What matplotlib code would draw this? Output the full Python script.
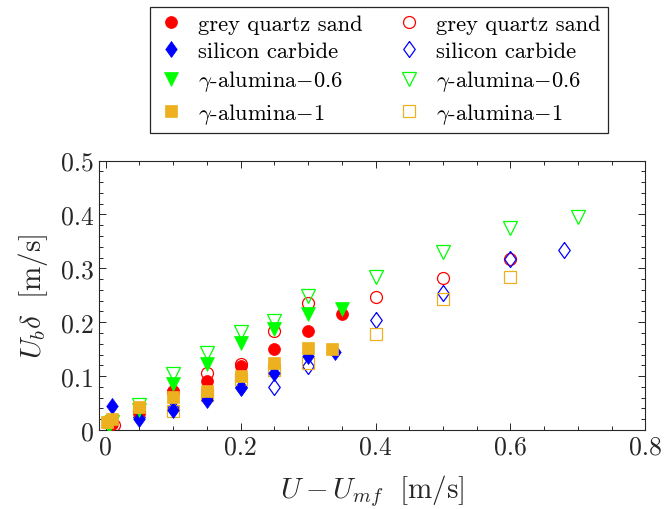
import matplotlib
matplotlib.use("Agg")
import matplotlib.pyplot as plt
from matplotlib.ticker import MultipleLocator

plt.rcParams['font.family'] = ['cmr10', 'DejaVu Serif']
plt.rcParams['mathtext.fontset'] = 'cm'
plt.rcParams['axes.formatter.use_mathtext'] = True
plt.rcParams['axes.unicode_minus'] = False

# ---- data: closed symbols ----
sand_x = [0.01, 0.05, 0.10, 0.15, 0.20, 0.25, 0.30, 0.35]
sand_y = [0.012, 0.032, 0.073, 0.090, 0.118, 0.151, 0.183, 0.215]
sic_x = [0.01, 0.05, 0.10, 0.15, 0.20, 0.25, 0.30, 0.34]
sic_y = [0.045, 0.021, 0.038, 0.055, 0.078, 0.106, 0.137, 0.145]
a06_x = [0.005, 0.05, 0.10, 0.15, 0.20, 0.25, 0.30, 0.35]
a06_y = [0.008, 0.037, 0.085, 0.123, 0.162, 0.187, 0.216, 0.225]
a1_x = [0.002, 0.01, 0.05, 0.10, 0.15, 0.20, 0.25, 0.30, 0.335]
a1_y = [0.015, 0.020, 0.043, 0.061, 0.072, 0.100, 0.125, 0.153, 0.151]

# ---- data: open symbols ----
sand_o_x = [0.012, 0.05, 0.10, 0.15, 0.20, 0.25, 0.30, 0.40, 0.50, 0.60]
sand_o_y = [0.010, 0.035, 0.070, 0.105, 0.123, 0.184, 0.236, 0.246, 0.282, 0.317]
sic_o_x = [0.01, 0.05, 0.10, 0.15, 0.20, 0.25, 0.30, 0.40, 0.50, 0.60, 0.68]
sic_o_y = [0.015, 0.025, 0.040, 0.062, 0.080, 0.080, 0.119, 0.204, 0.255, 0.317, 0.334]
a06_o_x = [0.01, 0.05, 0.10, 0.15, 0.20, 0.25, 0.30, 0.40, 0.50, 0.60, 0.70]
a06_o_y = [0.015, 0.047, 0.103, 0.142, 0.181, 0.202, 0.248, 0.283, 0.330, 0.374, 0.396]
a1_o_x = [0.005, 0.05, 0.10, 0.15, 0.20, 0.25, 0.30, 0.40, 0.50, 0.60]
a1_o_y = [0.015, 0.040, 0.036, 0.065, 0.095, 0.112, 0.125, 0.179, 0.243, 0.284]

labels = ["grey quartz sand", "silicon carbide",
          r"$\gamma$-alumina$-$0.6", r"$\gamma$-alumina$-$1"]
xticks = [0, 0.2, 0.4, 0.6, 0.8]
xticklabels = ["0", "0.2", "0.4", "0.6", "0.8"]
yticks = [0, 0.1, 0.2, 0.3, 0.4, 0.5]
yticklabels = ["0", "0.1", "0.2", "0.3", "0.4", "0.5"]

RED = (1, 0, 0)
BLUE = (0, 0, 1)
GREEN = (0, 1, 0)
ORANGE = (0.929, 0.694, 0.125)
DIAM = [(0, 1), (0.72, 0), (0, -1), (-0.72, 0), (0, 1)]

fig = plt.figure(figsize=(6.66, 5.10), dpi=100)
ax = fig.add_axes([0.1485, 0.1549, 0.8206, 0.5284])

styles = [
    (sand_x, sand_y, sand_o_x, sand_o_y, RED, 'o', 8.6),
    (sic_x, sic_y, sic_o_x, sic_o_y, BLUE, DIAM, 11.5),
    (a06_x, a06_y, a06_o_x, a06_o_y, GREEN, 'v', 9.5),
    (a1_x, a1_y, a1_o_x, a1_o_y, ORANGE, 's', 8.0),
]

open_h = []
for i, (x, y, xo, yo, c, m, ms) in enumerate(styles):
    h, = ax.plot(xo, yo, linestyle='none', marker=m, ms=ms, mfc='none',
                 mec=c, mew=0.9, label=labels[i], zorder=2)
    open_h.append(h)
filled_h = []
for i, (x, y, xo, yo, c, m, ms) in enumerate(styles):
    h, = ax.plot(x, y, linestyle='none', marker=m, ms=ms, mfc=c,
                 mec=c, mew=0.5, label=labels[i], zorder=3)
    filled_h.append(h)

ax.set_xlim(-0.01, 0.8)
ax.set_ylim(0, 0.5)
ax.set_xticks(xticks)
ax.set_xticklabels(xticklabels)
ax.set_yticks(yticks)
ax.set_yticklabels(yticklabels)
ax.xaxis.set_minor_locator(MultipleLocator(0.05))
ax.yaxis.set_minor_locator(MultipleLocator(0.02))
dark = '#262626'
ax.tick_params(which='both', direction='in', top=True, right=True,
               colors=dark, labelsize=18.5, width=0.7)
ax.tick_params(which='major', length=5)
ax.tick_params(which='minor', length=3)
for s in ax.spines.values():
    s.set_color(dark)
    s.set_linewidth(0.8)

ax.set_xlabel(r"$U-U_{mf}\ \ [\mathrm{m/s}]$", fontsize=21, color=dark, labelpad=10)
ax.set_ylabel(r"$U_b\delta\ \ [\mathrm{m/s}]$", fontsize=21, color=dark, labelpad=8)

leg = fig.legend(filled_h + open_h, labels + labels, ncol=2, loc='center',
                 bbox_to_anchor=(379 / 666, 1 - 71 / 510), fontsize=16.2,
                 frameon=True, fancybox=False, edgecolor=dark, framealpha=1,
                 handlelength=1.2, handletextpad=0.6, columnspacing=1.5,
                 labelspacing=0.33, borderpad=0.3, borderaxespad=0)
leg.get_frame().set_linewidth(0.9)
for t in leg.get_texts():
    t.set_color('black')

fig.savefig("out.png", dpi=100)
